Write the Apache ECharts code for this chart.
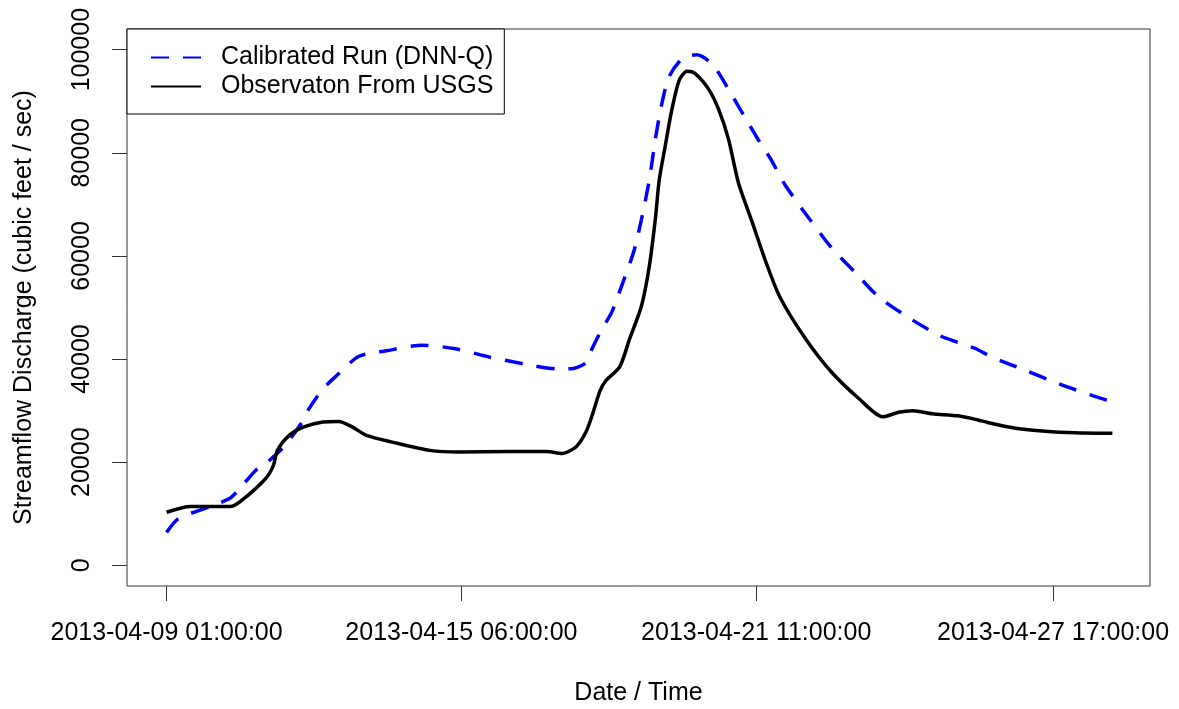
<!DOCTYPE html>
<html>
<head>
<meta charset="utf-8">
<script src="https://cdn.jsdelivr.net/npm/echarts@6/dist/echarts.min.js"></script>
<style>
  html, body { margin: 0; padding: 0; background: #fff; }
  #main { width: 1179px; height: 709px; }
</style>
</head>
<body>
<div id="main"></div>
<script>
// hours since 2013-04-09 01:00:00
const obsHours = [0, 12, 32, 37, 50, 54, 56, 62, 69, 79, 87, 94, 101, 114, 133, 148, 173, 192, 200, 207, 212, 215, 219, 222, 229, 234, 240, 244, 247, 249, 252, 255, 259, 263, 267, 274, 279, 284, 289, 296, 303, 310, 323, 336, 350, 362, 370, 377, 387, 400, 410, 415, 429, 444, 459, 478]
const obsFlow  = [10300, 11400, 11400, 12300, 16800, 19400, 22300, 25200, 26800, 27800, 27900, 26800, 25200, 23900, 22300, 22000, 22100, 22100, 21700, 23000, 25900, 29000, 33800, 35800, 38500, 43900, 50300, 58100, 67100, 74800, 81300, 87700, 94000, 95800, 95400, 92300, 88400, 82600, 74200, 66500, 58700, 52000, 43900, 37500, 32300, 28800, 29700, 30000, 29400, 29000, 28200, 27700, 26600, 26000, 25700, 25600]

const simHours = [0, 6, 17, 22, 32, 37, 45, 50, 60, 69, 72, 79, 86, 97, 111, 129, 146, 163, 180, 198, 204, 212, 215, 220, 225, 230, 236, 240, 244, 247, 250, 254, 261, 268, 276, 284, 293, 300, 305, 310, 313, 325, 336, 348, 360, 376, 391, 401, 409, 417, 434, 451, 468, 478]
const simFlow  = [6400, 9100, 10700, 11400, 13000, 14900, 18400, 19700, 23300, 28100, 30400, 34200, 36800, 40500, 41600, 42700, 42000, 40400, 39100, 38100, 38100, 39300, 42000, 45800, 49100, 54200, 60700, 67100, 74800, 82600, 89000, 94800, 98400, 99000, 97100, 92300, 86400, 81900, 79000, 75500, 73500, 67100, 61600, 56800, 52000, 47800, 44500, 43100, 42000, 40400, 37800, 35200, 32900, 31700]

const xTicks = [0, 149, 298, 448]
const xTickLabels = ["2013-04-09 01:00:00", "2013-04-15 06:00:00", "2013-04-21 11:00:00", "2013-04-27 17:00:00"]
const yTicks = [0, 20000, 40000, 60000, 80000, 100000]

const font = "'Liberation Sans', Arial, sans-serif"
const zip = (xs, ys) => xs.map((x, i) => [x, ys[i]])

const chart = echarts.init(document.getElementById("main"))

chart.setOption({
  animation: false,
  backgroundColor: "#fff",
  textStyle: { fontFamily: font, color: "#000" },
  grid: {
    left: 127, right: 29, top: 29, bottom: 123,
    outerBoundsMode: "none",
    show: true, borderColor: "#333", borderWidth: 1
  },
  legend: {
    orient: "vertical",
    left: 127, top: 29,
    data: ["Calibrated Run (DNN-Q)", "Observaton From USGS"],
    backgroundColor: "#fff",
    borderColor: "#000", borderWidth: 1, borderRadius: 0,
    padding: [16, 11, 15, 23],
    itemWidth: 50, itemHeight: 14, itemGap: 4,
    itemStyle: { color: "transparent", borderWidth: 0 },
    textStyle: { fontSize: 25, fontFamily: font, color: "#000", padding: [0, 0, 0, 15] }
  },
  xAxis: {
    type: "value",
    min: -20, max: 497,
    name: "Date / Time",
    nameLocation: "middle",
    nameGap: 95,
    nameTextStyle: { fontSize: 25, fontFamily: font, color: "#000" },
    axisLine: { show: false, onZero: false },
    splitLine: { show: false },
    axisTick: { show: true, inside: false, length: 15, customValues: xTicks, lineStyle: { color: "#333" } },
    axisLabel: {
      customValues: xTicks,
      margin: 35,
      fontSize: 25, fontFamily: font, color: "#000",
      formatter: v => xTickLabels[xTicks.indexOf(v)] || ""
    }
  },
  yAxis: {
    type: "value",
    min: -4000, max: 104000,
    name: "Streamflow Discharge (cubic feet / sec)",
    nameLocation: "middle",
    nameGap: 90,
    nameTextStyle: { fontSize: 25, fontFamily: font, color: "#000" },
    axisLine: { show: false, onZero: false },
    splitLine: { show: false },
    axisTick: { show: true, length: 15, customValues: yTicks, lineStyle: { color: "#333" } },
    axisLabel: {
      customValues: yTicks,
      rotate: 90,
      margin: 32,
      fontSize: 25, fontFamily: font, color: "#000",
      formatter: v => String(v)
    }
  },
  series: [
    {
      name: "Calibrated Run (DNN-Q)",
      type: "line",
      data: zip(simHours, simFlow),
      showSymbol: false, symbol: "none",
      smooth: 0.25,
      lineStyle: { color: "#0000ff", width: 3.5, type: [18, 14], cap: "butt" },
      itemStyle: { color: "#0000ff" }
    },
    {
      name: "Observaton From USGS",
      type: "line",
      data: zip(obsHours, obsFlow),
      showSymbol: false, symbol: "none",
      smooth: 0.25,
      lineStyle: { color: "#000", width: 3.5 },
      itemStyle: { color: "#000" }
    }
  ]
})

window.onresize = () => chart.resize()
</script>
</body>
</html>
